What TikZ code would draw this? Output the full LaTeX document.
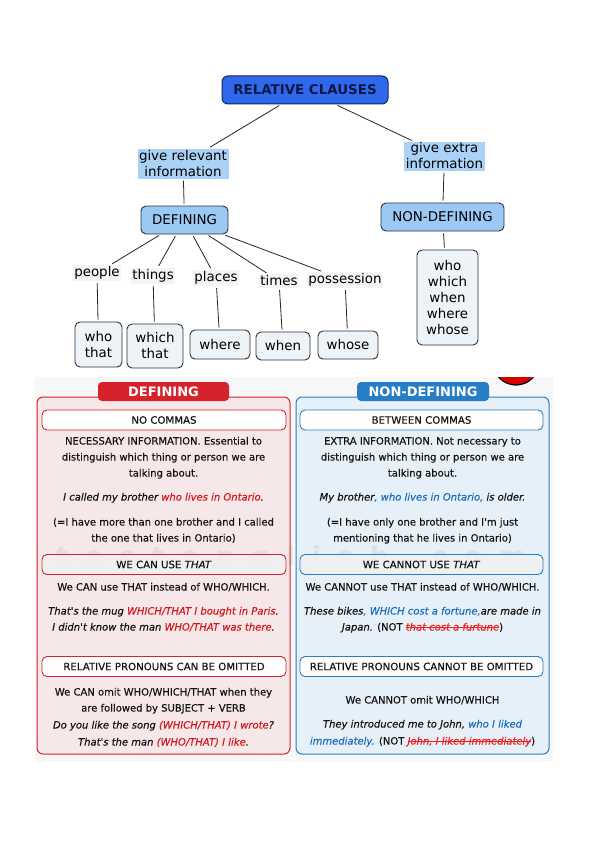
\documentclass[tikz,border=0pt]{standalone}
\usepackage{fontspec}
\setmainfont{DejaVu Sans}
\newfontfamily\bodyfont[FakeBold=0.35]{DejaVu Sans}
\newsavebox\strikebox
\newcommand\mystrike[1]{\sbox\strikebox{#1}\rlap{\usebox\strikebox}\raisebox{3pt}{\rule{\wd\strikebox}{0.7pt}}}
\definecolor{rcfill}{RGB}{48,104,236}
\definecolor{rcedge}{RGB}{20,36,96}
\definecolor{rctext}{RGB}{12,24,70}
\definecolor{lbfill}{RGB}{170,210,246}
\definecolor{deffill}{RGB}{156,200,244}
\definecolor{edge}{RGB}{45,50,60}
\definecolor{wfill}{RGB}{238,243,247}
\definecolor{lblfill}{RGB}{244,244,244}
\definecolor{pnred}{RGB}{214,34,42}
\definecolor{pnpink}{RGB}{246,232,232}
\definecolor{pnblue}{RGB}{40,126,196}
\definecolor{pnlblue}{RGB}{230,240,248}
\definecolor{exred}{RGB}{212,24,34}
\definecolor{exblue}{RGB}{30,108,190}
\definecolor{strk}{RGB}{240,30,30}
\definecolor{txt}{RGB}{20,20,20}
\begin{document}
\begin{tikzpicture}[x=1pt,y=-1pt,
  topf/.style={font=\fontsize{13.4}{16}\selectfont},
  cbox/.style={draw=edge, rounded corners=5pt, line width=0.9pt, align=center, inner sep=0pt, topf},
  lbl/.style={fill=lblfill, inner sep=1.5pt, topf},
  conn/.style={draw=black!85, line width=0.8pt, shorten <=2pt, shorten >=2pt},
  panelL/.style={draw=pnred, fill=pnpink, line width=1pt, rounded corners=6pt},
  panelR/.style={draw=pnblue, fill=pnlblue, line width=1pt, rounded corners=6pt},
  tab/.style={rounded corners=4pt, inner sep=0pt, text=white, font=\bfseries\fontsize{13}{14}\selectfont},
  hdr/.style={fill=white, rounded corners=5pt, line width=0.9pt, inner sep=0pt, minimum height=20pt, text=txt, font=\bodyfont\fontsize{10.2}{11}\selectfont},
  body/.style={anchor=base, inner sep=0pt, text=txt, font=\bodyfont\fontsize{10}{16}\selectfont},
  bodyit/.style={body, font=\bodyfont\fontsize{10}{16}\selectfont\itshape}
]
\useasboundingbox (0,0) rectangle (600,848);
\fill[white] (0,0) rectangle (600,848);

% ---------- top concept map ----------
\node[draw=rcedge, fill=rcfill, rounded corners=6pt, line width=1pt, minimum width=166pt, minimum height=28pt, inner sep=0pt, text=rctext, font=\bfseries\fontsize{13.4}{14}\selectfont] (rc) at (305,90) {RELATIVE CLAUSES};
\node[fill=lbfill, minimum width=91pt, minimum height=30pt, inner sep=0pt, align=center, topf] (gr) at (183,163.5) {give relevant\\information};
\node[fill=lbfill, minimum width=81pt, minimum height=29pt, inner sep=0pt, align=center, topf] (ge) at (444.5,156) {give extra\\information};
\node[cbox, fill=deffill, minimum width=87pt, minimum height=28pt] (def) at (184.5,220) {DEFINING};
\node[cbox, fill=deffill, minimum width=123pt, minimum height=28pt] (ndef) at (442.5,217) {NON-DEFINING};
\node[cbox, fill=wfill, minimum width=61pt, minimum height=95pt] (w5) at (447.5,297.5) {who\\which\\when\\where\\whose};

\node[lbl] (people) at (97,273) {people};
\node[lbl] (things) at (153,276) {things};
\node[lbl] (places) at (216,278) {places};
\node[lbl] (times) at (279,281) {times};
\node[lbl] (poss) at (345,280) {possession};

\node[cbox, fill=wfill, minimum width=47pt, minimum height=45pt] (b1) at (98.5,344.5) {who\\that};
\node[cbox, fill=wfill, minimum width=56pt, minimum height=44pt] (b2) at (155,346) {which\\that};
\node[cbox, fill=wfill, minimum width=60pt, minimum height=29pt] (b3) at (220,344.5) {where};
\node[cbox, fill=wfill, minimum width=54pt, minimum height=28pt] (b4) at (283,346) {when};
\node[cbox, fill=wfill, minimum width=60pt, minimum height=28pt] (b5) at (348,345) {whose};

\draw[conn] (rc) -- (gr);
\draw[conn] (rc) -- (ge);
\draw[conn] (gr) -- (def);
\draw[conn] (ge) -- (ndef);
\draw[conn] (ndef) -- (w5);
\draw[conn] (def) -- (people);
\draw[conn] (def) -- (things);
\draw[conn] (def) -- (places);
\draw[conn] (def) -- (times);
\draw[conn] (def) -- (poss);
\draw[conn] (people) -- (b1);
\draw[conn] (things) -- (b2);
\draw[conn] (places) -- (b3);
\draw[conn] (times) -- (b4);
\draw[conn] (poss) -- (b5);

% ---------- bottom chart ----------
\fill[black!3] (35,377) rectangle (553,762);
\begin{scope}
\clip (480,377) rectangle (560,400);
\draw[fill=red!85!black, draw=black, line width=1.2pt] (516,362) circle (23pt);
\draw[pnblue, line width=1.5pt] (516,362) ++(-20:22pt) arc (-20:-45:22pt);
\end{scope}

\draw[panelL] (37,397) rectangle (290,754);
\draw[panelR] (296,397) rectangle (549,754);
\node[tab, fill=pnred, minimum width=131pt, minimum height=19pt] (tabL) at (163.5,391.5) {DEFINING};
\node[tab, fill=pnblue, minimum width=132pt, minimum height=19pt] (tabR) at (423,391.5) {NON-DEFINING};

% watermark
\node[inner sep=0pt, text=gray, opacity=0.12, font=\bfseries\fontsize{26}{28}\selectfont] (wm) at (291,558) {\hbox to 470pt{t\hfill e\hfill s\hfill t\hfill e\hfill n\hfill g\hfill l\hfill i\hfill s\hfill h\hfill .\hfill c\hfill o\hfill m}};

% left panel
\node[hdr, draw=pnred, minimum width=244pt] (hL1) at (164,420) {NO COMMAS};
\node[body] (l1) at (163.5,444.5) {NECESSARY INFORMATION. Essential to};
\node[body] (l2) at (163.5,460.5) {distinguish which thing or person we are};
\node[body] (l3) at (163.5,476.5) {talking about.};
\node[bodyit] (l4) at (163.5,500.5) {I called my brother \textcolor{exred}{who lives in Ontario}.};
\node[body] (l5) at (163.5,525.5) {(=I have more than one brother and I called};
\node[body] (l6) at (163.5,541.5) {the one that lives in Ontario)};
\node[hdr, draw=pnred, minimum width=244pt, fill=white!88!gray, fill opacity=0.9, text opacity=1] (hL2) at (164,564.5) {WE CAN USE \textit{THAT}};
\node[body] (l7) at (163.5,590.5) {We CAN use THAT instead of WHO/WHICH.};
\node[bodyit] (l8) at (163.5,614.5) {That's the mug \textcolor{exred}{WHICH/THAT I bought in Paris}.};
\node[bodyit] (l9) at (163.5,630.5) {I didn't know the man \textcolor{exred}{WHO/THAT was there}.};
\node[hdr, draw=pnred, minimum width=244pt] (hL3) at (164,666.5) {RELATIVE PRONOUNS CAN BE OMITTED};
\node[body] (l10) at (163.5,695.5) {We CAN omit WHO/WHICH/THAT when they};
\node[body] (l11) at (163.5,711.5) {are followed by SUBJECT + VERB};
\node[bodyit] (l12) at (163.5,728.5) {Do you like the song \textcolor{exred}{(WHICH/THAT) I wrote}?};
\node[bodyit] (l13) at (163.5,745.5) {That's the man \textcolor{exred}{(WHO/THAT) I like}.};

% right panel
\node[hdr, draw=pnblue, minimum width=243pt] (hR1) at (421.5,420) {BETWEEN COMMAS};
\node[body] (r1) at (422.5,444.5) {EXTRA INFORMATION. Not necessary to};
\node[body] (r2) at (422.5,460.5) {distinguish which thing or person we are};
\node[body] (r3) at (422.5,476.5) {talking about.};
\node[bodyit] (r4) at (422.5,500.5) {My brother\textcolor{exblue}{, who lives in Ontario,} is older.};
\node[body] (r5) at (422.5,525.5) {(=I have only one brother and I'm just};
\node[body] (r6) at (422.5,541.5) {mentioning that he lives in Ontario)};
\node[hdr, draw=pnblue, minimum width=243pt, fill=white!88!gray, fill opacity=0.9, text opacity=1] (hR2) at (421.5,564.5) {WE CANNOT USE \textit{THAT}};
\node[body] (r7) at (422.5,590.5) {We CANNOT use THAT instead of WHO/WHICH.};
\node[bodyit] (r8) at (422.5,614.5) {These bikes\textcolor{exblue}{, WHICH cost a fortune,}are made in};
\node[body] (r9) at (422.5,630.5) {\textit{Japan.} (NOT \textcolor{strk}{\itshape\mystrike{that cost a furtune}})};
\node[hdr, draw=pnblue, minimum width=243pt] (hR3) at (421.5,666.5) {RELATIVE PRONOUNS CANNOT BE OMITTED};
\node[body] (r10) at (422.5,703.5) {We CANNOT omit WHO/WHICH};
\node[bodyit] (r11) at (422.5,727.5) {They introduced me to John, \textcolor{exblue}{who I liked}};
\node[body] (r12) at (422.5,744.5) {\textcolor{exblue}{\itshape immediately.} (NOT \textcolor{strk}{\itshape\mystrike{John, I liked immediately}})};
\end{tikzpicture}
\end{document}
